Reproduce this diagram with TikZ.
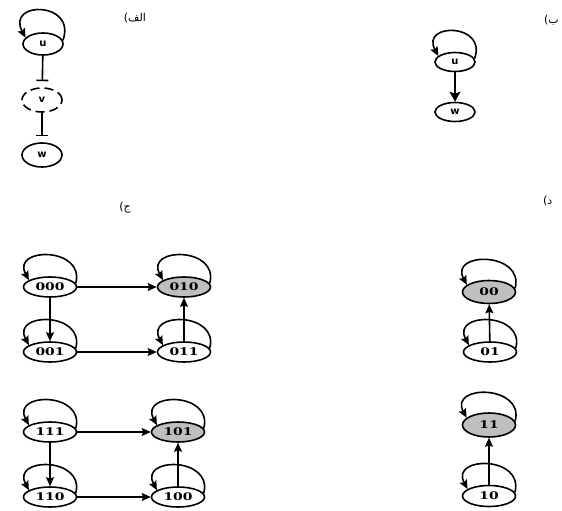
\documentclass[tikz,border=0pt]{standalone}
\usepackage{fontspec}
\usepackage{graphicx}
\usetikzlibrary{shapes.geometric,arrows.meta}
\newfontfamily\numfont{DejaVu Serif}
\newfontfamily\letfont{DejaVu Sans}
\newfontfamily\arabicfont[Script=Arabic]{DejaVu Sans}
\TeXXeTstate=1
\newcommand\selfloop[3]{\draw[arr] (#1.8) .. controls +(#2:38pt) and +(#3:38pt) .. (#1.162);}
\newcommand\nm[1]{\scalebox{1.32}[1]{\numfont\bfseries #1}}
\begin{document}
\begin{tikzpicture}[x=1pt,y=-1pt,
  st/.style={ellipse,draw,line width=1.6pt,inner sep=0pt,font=\fontsize{10.5}{12}\selectfont},
  lt/.style={st,minimum width=40pt,minimum height=22pt,font=\fontsize{10}{11}\selectfont\letfont\bfseries},
  bt/.style={st,minimum width=53pt,minimum height=20pt},
  gr/.style={fill=black!25},
  arr/.style={line width=1.6pt,-{Stealth[length=9pt,width=8pt,inset=1.5pt]}},
  inh/.style={line width=1.6pt,-{Bar[width=12pt,line width=1.6pt]},shorten >=6pt},
  lbl/.style={inner sep=0pt,font=\fontsize{11}{13}\selectfont\arabicfont}]
\useasboundingbox (0,0) rectangle (562,511);
% panel alef
\node[lt] (u) at (43,44) {u};
\node[lt,dash pattern=on 9pt off 5pt,minimum height=24pt] (v) at (42,100) {v};
\node[lt,minimum height=24pt] (w) at (42,155) {w};
\draw[arr] (u.10) .. controls +(70:42pt) and +(118:42pt) .. (u.160);
\draw[inh] (u) -- (v);
\draw[inh] (v) -- (w);
\node[lbl] (la) at (135,18) {\beginR الف)\endR};
% panel be
\node[lt,minimum height=19pt] (u2) at (455,62) {u};
\node[lt,minimum height=19pt] (w2) at (455,112) {w};
\draw[arr] (u2.10) .. controls +(70:38pt) and +(118:38pt) .. (u2.160);
\draw[line width=1.6pt,-{Stealth[length=10pt,width=11pt,inset=2pt]}] (u2) -- (w2);
\node[lbl,anchor=west] (lb) at (544,20) {\beginR ب)\endR};
% panel jim
\node[lbl] (lj) at (125,208) {\beginR ج)\endR};
\node[bt] (a000) at (50,287) {\nm{000}};
\node[bt,gr] (a010) at (184,287) {\nm{010}};
\node[bt] (a001) at (50,352) {\nm{001}};
\node[bt] (a011) at (184,352) {\nm{011}};
\node[bt] (a111) at (50,432) {\nm{111}};
\node[bt,gr] (a101) at (178,432) {\nm{101}};
\node[bt] (a110) at (50,497) {\nm{110}};
\node[bt] (a100) at (178,497) {\nm{100}};
\foreach \n in {a000,a010,a001,a011,a111,a101,a110,a100} {\selfloop{\n}{75}{118}}
\draw[arr] (a000) -- (a010);
\draw[arr] (a000) -- (a001);
\draw[arr] (a001) -- (a011);
\draw[arr] (a011) -- (a010);
\draw[arr] (a111) -- (a101);
\draw[arr] (a111) -- (a110);
\draw[arr] (a110) -- (a100);
\draw[arr] (a100) -- (a101);
% panel dal
\node[lbl,anchor=west] (ld) at (543,201) {\beginR د)\endR};
\node[bt,gr,minimum height=23pt] (b00) at (489,292) {\nm{00}};
\node[bt] (b01) at (490,352) {\nm{01}};
\node[bt,gr,minimum height=24pt] (b11) at (489,425) {\nm{11}};
\node[bt,minimum height=21pt] (b10) at (489,496) {\nm{10}};
\foreach \n in {b00,b01,b11,b10} {\selfloop{\n}{75}{118}}
\draw[arr] (b01) -- (b00);
\draw[arr] (b10) -- (b11);
\end{tikzpicture}
\end{document}
